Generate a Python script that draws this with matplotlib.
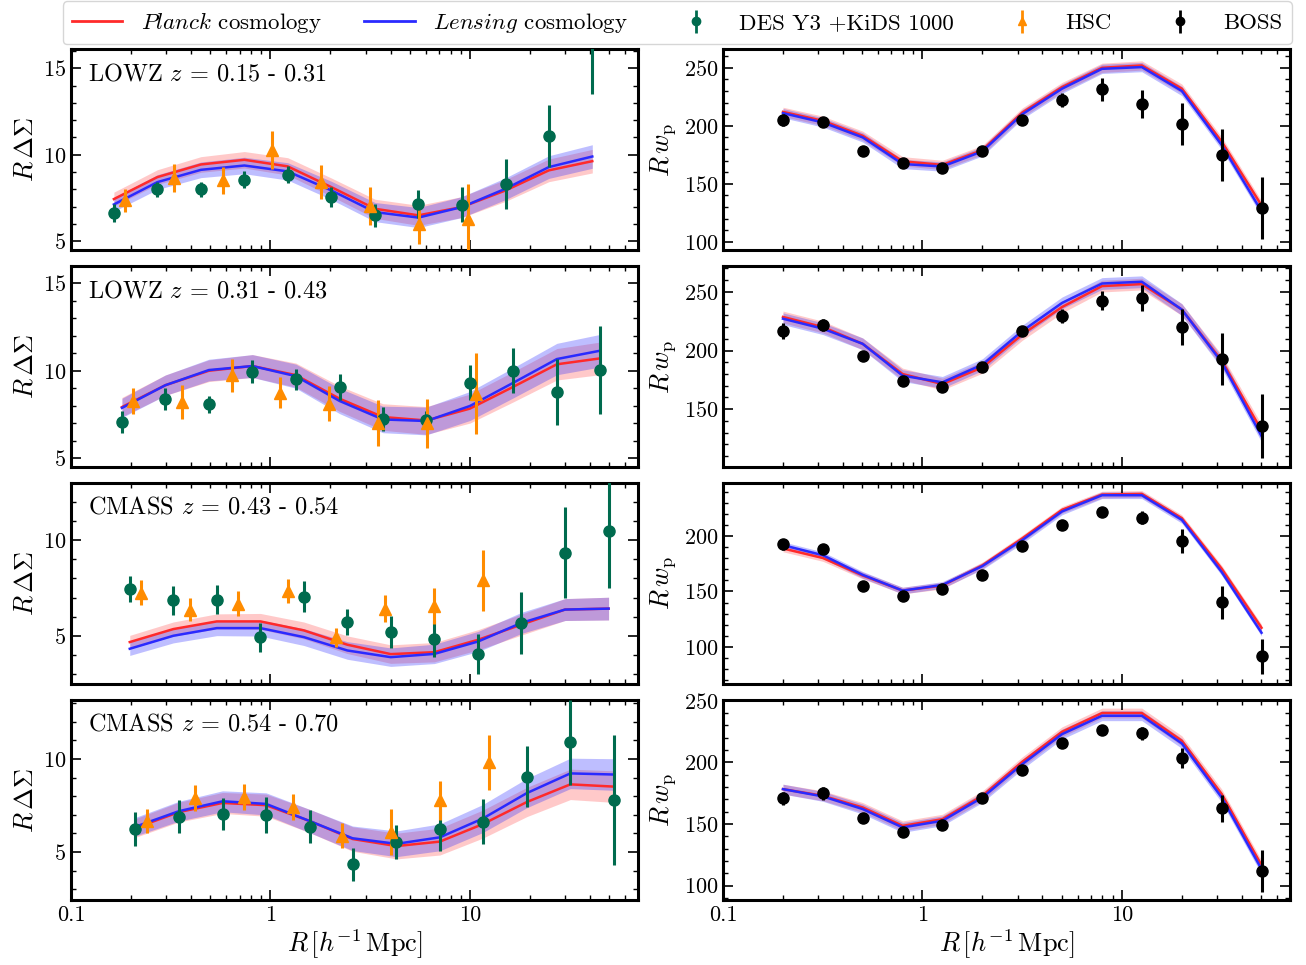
import numpy as np
import matplotlib
matplotlib.use("Agg")
import matplotlib.pyplot as plt
from matplotlib.lines import Line2D

plt.rcParams['font.family'] = 'serif'
plt.rcParams['font.serif'] = ['cmr10']
plt.rcParams['mathtext.fontset'] = 'cm'
plt.rcParams['axes.formatter.use_mathtext'] = True
plt.rcParams['axes.unicode_minus'] = False

# --- colours ---
C_DES = '#006b4e'
C_HSC = '#ff8c00'
C_PL = '#ff2a2a'
C_LE = '#2a2aff'

# --- lensing panels (left column) ---
titles = [r"LOWZ $z$ = 0.15 - 0.31", r"LOWZ $z$ = 0.31 - 0.43",
          r"CMASS $z$ = 0.43 - 0.54", r"CMASS $z$ = 0.54 - 0.70"]

r_des = [
    [0.164, 0.271, 0.448, 0.740, 1.22, 2.02, 3.34, 5.52, 9.12, 15.1, 24.9, 41.1],
    [0.180, 0.297, 0.491, 0.812, 1.34, 2.22, 3.66, 6.05, 10.0, 16.5, 27.3, 45.1],
    [0.197, 0.326, 0.538, 0.890, 1.47, 2.43, 4.01, 6.63, 11.0, 18.1, 30.0, 49.6],
    [0.210, 0.348, 0.575, 0.950, 1.57, 2.58, 4.28, 7.07, 11.6, 19.3, 31.9, 52.5],
]
y_des = [
    [6.63, 8.0, 8.0, 8.56, 8.85, 7.56, 6.5, 7.17, 7.12, 8.33, 11.1, 19.0],
    [7.06, 8.37, 8.08, 9.94, 9.5, 9.08, 7.25, 7.19, 9.31, 10.0, 8.79, 10.04],
    [7.46, 6.86, 6.89, 4.93, 7.04, 5.72, 5.19, 4.84, 4.05, 5.67, 9.35, 10.46],
    [6.23, 6.9, 7.06, 6.99, 6.36, 4.33, 5.53, 6.23, 6.64, 9.05, 10.9, 7.78],
]
e_des = [
    [0.5, 0.45, 0.45, 0.5, 0.5, 0.55, 0.65, 0.8, 1.0, 1.45, 1.8, 5.5],
    [0.62, 0.62, 0.5, 0.65, 0.62, 0.73, 0.7, 0.5, 1.0, 1.3, 1.9, 2.5],
    [0.68, 0.75, 0.74, 0.76, 0.8, 0.66, 0.83, 0.96, 1.05, 1.62, 2.4, 2.95],
    [0.9, 0.9, 0.85, 0.97, 0.9, 0.9, 0.9, 1.16, 1.23, 1.65, 2.3, 3.5],
]

r_hsc = [
    [0.187, 0.329, 0.579, 1.02, 1.79, 3.16, 5.56, 9.8],
    [0.205, 0.360, 0.640, 1.11, 1.96, 3.46, 6.08, 10.7],
    [0.224, 0.394, 0.690, 1.22, 2.14, 3.77, 6.60, 11.7],
    [0.239, 0.420, 0.735, 1.30, 2.28, 4.00, 7.07, 12.4],
]
y_hsc = [
    [7.37, 8.67, 8.52, 10.25, 8.42, 7.04, 6.0, 6.3],
    [8.27, 8.21, 9.75, 8.75, 8.12, 7.0, 7.0, 8.69],
    [7.25, 6.37, 6.67, 7.33, 4.93, 6.42, 6.54, 7.91],
    [6.67, 7.9, 7.94, 7.43, 5.88, 6.09, 7.78, 9.84],
]
e_hsc = [
    [0.67, 0.8, 0.8, 1.1, 1.0, 1.1, 1.15, 2.0],
    [0.75, 0.95, 0.95, 0.9, 1.0, 1.3, 1.4, 2.3],
    [0.65, 0.6, 0.65, 0.62, 0.5, 0.7, 0.95, 1.6],
    [0.65, 0.72, 0.7, 0.7, 0.66, 1.23, 1.05, 1.48],
]

ds_planck = [
    [7.44, 8.71, 9.44, 9.71, 9.33, 8.13, 6.88, 6.5, 6.98, 7.94, 9.1, 9.63],
    [7.92, 9.17, 10.0, 10.27, 9.75, 8.4, 7.35, 7.15, 7.83, 9.08, 10.37, 10.71],
    [4.67, 5.35, 5.75, 5.75, 5.28, 4.53, 4.04, 4.14, 4.79, 5.58, 6.37, 6.42],
    [6.29, 7.15, 7.64, 7.52, 6.67, 5.7, 5.32, 5.56, 6.5, 7.69, 8.64, 8.52],
]
ds_lensing = [
    [7.13, 8.42, 9.13, 9.38, 9.04, 7.94, 6.69, 6.37, 6.98, 8.04, 9.29, 9.9],
    [7.87, 9.17, 10.04, 10.27, 9.69, 8.27, 7.21, 7.12, 7.98, 9.31, 10.67, 11.15],
    [4.32, 5.0, 5.4, 5.4, 4.93, 4.23, 3.88, 4.05, 4.7, 5.67, 6.37, 6.42],
    [6.36, 7.2, 7.73, 7.59, 6.67, 5.74, 5.44, 5.79, 6.8, 8.17, 9.23, 9.17],
]
ds_band_pl = [0.4, 0.55, 0.35, 0.5]
ds_band_le = [0.4, 0.55, 0.35, 0.5]
ds_ylim = [(4.5, 16.1), (4.5, 16.0), (2.5, 13.0), (2.4, 13.2)]

# --- clustering panels (right column) ---
r_boss = [0.2, 0.317, 0.502, 0.796, 1.26, 2.0, 3.17, 5.02, 7.96, 12.6, 20.0, 31.7, 50.2]
wp_boss = [
    [205.1, 202.9, 178.6, 167.7, 163.4, 178.3, 205.1, 222.0, 231.4, 219.1, 201.4, 174.9, 129.1],
    [216.6, 222.0, 195.7, 174.3, 168.6, 186.3, 216.3, 229.1, 242.3, 244.9, 220.0, 192.9, 135.7],
    [192.7, 188.1, 155.3, 145.6, 152.3, 165.3, 190.9, 210.0, 221.3, 216.7, 195.7, 140.1, 91.5],
    [170.7, 174.8, 154.5, 143.1, 149.1, 170.7, 194.0, 215.7, 226.3, 223.6, 203.5, 162.6, 111.9],
]
wp_err = [
    [5, 4, 4, 3, 3, 3, 4, 6, 10, 12, 18, 22.5, 27],
    [7, 5, 4, 4, 3, 4, 4, 6, 8, 11, 15, 22, 27],
    [5, 4, 3, 3, 3, 3, 3, 3, 3, 6, 11, 15, 16],
    [5, 5, 3, 3, 3, 3, 3, 3, 4, 5, 8, 11, 17],
]
wp_planck = [
    [212.0, 204.3, 191.4, 169.4, 166.3, 179.1, 211.4, 233.4, 250.0, 252.0, 232.0, 186.3, 131.4],
    [228.6, 220.0, 205.7, 180.0, 171.4, 185.7, 213.7, 237.1, 254.9, 256.6, 234.9, 191.4, 132.0],
    [188.8, 180.2, 164.4, 150.8, 155.3, 173.6, 197.9, 223.7, 237.4, 238.0, 216.1, 170.5, 117.3],
    [178.3, 172.9, 163.4, 148.5, 153.9, 172.9, 200.5, 224.9, 240.1, 240.1, 217.6, 174.3, 116.5],
]
wp_lensing = [
    [210.9, 202.9, 190.0, 167.1, 164.9, 178.0, 210.0, 232.0, 249.1, 250.6, 230.0, 183.4, 126.3],
    [227.1, 218.6, 205.7, 178.6, 172.9, 188.0, 216.6, 240.6, 257.1, 258.6, 234.9, 190.0, 127.1],
    [191.8, 182.7, 165.0, 150.8, 155.9, 172.9, 196.4, 222.2, 236.8, 236.8, 214.6, 167.5, 112.8],
    [178.3, 172.4, 162.1, 147.2, 152.6, 171.5, 198.6, 223.0, 237.9, 237.9, 215.4, 171.5, 113.3],
]
wp_band = [4, 5, 3, 4]
wp_ylim = [(93, 266), (101, 272), (67, 248), (88, 251)]

fig, axes = plt.subplots(4, 2, figsize=(13.06, 9.65), dpi=100)
plt.subplots_adjust(left=0.0544, right=0.988, top=0.949, bottom=0.067,
                    hspace=0.08, wspace=0.149)


def style_axis(ax):
    ax.set_xscale('log')
    ax.set_xlim(0.1, 70)
    ax.tick_params(which='both', direction='in', top=True, right=True, labelsize=16)
    ax.tick_params(which='major', length=7, width=1.2)
    ax.tick_params(which='minor', length=3.5, width=1.0)
    for s in ax.spines.values():
        s.set_linewidth(2.2)
    ax.set_xticks([0.1, 1, 10], ['0.1', '1', '10'])


for i in range(4):
    ax = axes[i, 0]
    style_axis(ax)
    rd = np.array(r_des[i])
    pl = np.array(ds_planck[i])
    le = np.array(ds_lensing[i])
    # bands grow a bit towards large scales
    grow = np.linspace(1.0, 1.7, len(rd))
    ax.fill_between(rd, pl - ds_band_pl[i] * grow, pl + ds_band_pl[i] * grow,
                    color=C_PL, alpha=0.25, lw=0)
    ax.fill_between(rd, le - ds_band_le[i] * grow, le + ds_band_le[i] * grow,
                    color=C_LE, alpha=0.3, lw=0)
    ax.plot(rd, pl, color=C_PL, lw=1.8)
    ax.plot(rd, le, color=C_LE, lw=1.8)
    ax.errorbar(r_des[i], y_des[i], yerr=e_des[i], fmt='o', color=C_DES,
                ms=8, elinewidth=2.2, capsize=0, zorder=5)
    ax.errorbar(r_hsc[i], y_hsc[i], yerr=e_hsc[i], fmt='^', color=C_HSC,
                ms=9, elinewidth=2.2, capsize=0, zorder=5)
    ax.set_yticks([5, 10, 15])
    ax.set_yticks(np.arange(3, 17, 1), minor=True)
    ax.set_ylim(*ds_ylim[i])
    ax.set_ylabel(r'$R\,\Delta\Sigma$', fontsize=19, labelpad=4)
    ax.text(0.03, 0.93, titles[i], transform=ax.transAxes, fontsize=17.5,
            va='top', ha='left')

    ax = axes[i, 1]
    style_axis(ax)
    pl = np.array(wp_planck[i])
    le = np.array(wp_lensing[i])
    ax.fill_between(r_boss, pl - wp_band[i], pl + wp_band[i],
                    color=C_PL, alpha=0.25, lw=0)
    ax.fill_between(r_boss, le - wp_band[i], le + wp_band[i],
                    color=C_LE, alpha=0.3, lw=0)
    ax.plot(r_boss, pl, color=C_PL, lw=1.8)
    ax.plot(r_boss, le, color=C_LE, lw=1.8)
    ax.errorbar(r_boss, wp_boss[i], yerr=wp_err[i], fmt='o', color='black',
                ms=8, elinewidth=2.2, capsize=0, zorder=5)
    ax.set_yticks([100, 150, 200, 250])
    ax.set_yticks(np.arange(60, 280, 10), minor=True)
    ax.set_ylim(*wp_ylim[i])
    ax.set_ylabel(r'$R\,w_{\rm p}$', fontsize=19, labelpad=4)

    if i < 3:
        axes[i, 0].tick_params(labelbottom=False)
        axes[i, 1].tick_params(labelbottom=False)

for ax in axes[3]:
    ax.set_xlabel(r'$R\,[h^{-1}\,{\rm Mpc}]$', fontsize=19, labelpad=2)

# --- legend ---
h_pl = Line2D([], [], color=C_PL, lw=2)
h_le = Line2D([], [], color=C_LE, lw=2)
h_des = axes[0, 0].errorbar([], [], yerr=[], fmt='o', color=C_DES, ms=6,
                            elinewidth=2, capsize=0)
h_hsc = axes[0, 0].errorbar([], [], yerr=[], fmt='^', color=C_HSC, ms=6,
                            elinewidth=2, capsize=0)
h_boss = axes[0, 1].errorbar([], [], yerr=[], fmt='o', color='black', ms=6,
                             elinewidth=2, capsize=0)
fig.legend([h_pl, h_le, h_des, h_hsc, h_boss],
           [r'$\mathit{Planck}$ cosmology', r'$\mathit{Lensing}$ cosmology',
            'DES Y3 +KiDS 1000', 'HSC', 'BOSS'],
           loc='lower left', bbox_to_anchor=(0.048, 0.954, 0.941, 0.04),
           mode='expand', ncol=5, fontsize=16.5, frameon=True, fancybox=True,
           borderaxespad=0, handlelength=2.2, columnspacing=1.0)

plt.savefig("out.png", dpi=100)
plt.close(fig)
